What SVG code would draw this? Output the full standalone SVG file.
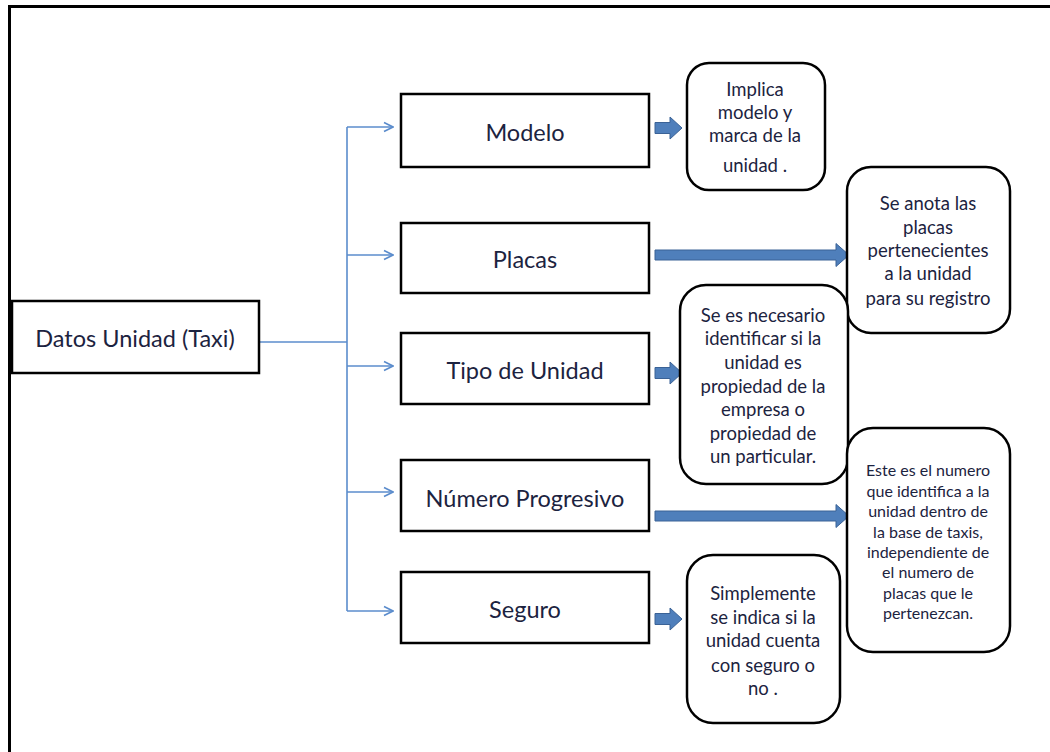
<svg xmlns="http://www.w3.org/2000/svg" width="1050" height="752" viewBox="0 0 1050 752">
  <defs>
    <marker id="chev" viewBox="0 0 12 12" refX="11" refY="6" markerWidth="12" markerHeight="12" markerUnits="userSpaceOnUse" orient="auto">
      <path d="M2,1.5 L11,6 L2,10.5" fill="none" stroke="#5b8ccc" stroke-width="1.6"/>
    </marker>
    <!-- short block arrow, origin at the tail, pointing right -->
    <path id="blkShort" d="M0,-5.5 H15 V-11 L27,0 L15,11 V5.5 H0 Z"/>
  </defs>
  <style>
    .frame { fill: none; stroke: #000; stroke-width: 3; }
    .box { fill: #fff; stroke: #000; stroke-width: 2.5; }
    .note { fill: #fff; stroke: #000; stroke-width: 2.5; }
    .link { fill: none; stroke: #5b8ccc; stroke-width: 1.6; }
    .blk { fill: #4f7fbb; stroke: #3a6296; stroke-width: 1; }
    .lbl { font-family: Lato, "Liberation Sans", sans-serif; font-size: 23.5px; fill: #1c2340; text-anchor: middle; dominant-baseline: central; }
    .txt { font-family: Lato, "Liberation Sans", sans-serif; font-size: 18.5px; fill: #1c2340; text-anchor: middle; dominant-baseline: central; }
    .sm { font-size: 16px; }
  </style>

  <rect width="1050" height="752" fill="#fff"/>
  <!-- outer frame: top and left edges -->
  <path class="frame" d="M9.5,752 V6.5 H1050"/>

  <!-- connectors -->
  <g id="connectors">
    <path class="link" d="M259,342 H347"/>
    <path class="link" d="M347,127 V611"/>
    <path class="link" d="M347,127 H393" marker-end="url(#chev)"/>
    <path class="link" d="M347,255 H393" marker-end="url(#chev)"/>
    <path class="link" d="M347,366 H393" marker-end="url(#chev)"/>
    <path class="link" d="M347,492 H393" marker-end="url(#chev)"/>
    <path class="link" d="M347,611 H393" marker-end="url(#chev)"/>
    <use href="#blkShort" class="blk" x="655" y="128"/>
    <use href="#blkShort" class="blk" x="655" y="373"/>
    <use href="#blkShort" class="blk" x="655" y="619"/>
    <path class="blk" d="M655,250 H836 V243.5 L849,255 L836,266.5 V260 H655 Z"/>
    <path class="blk" d="M655,511 H836 V504.5 L849,516 L836,527.5 V521 H655 Z"/>
  </g>

  <!-- root -->
  <g id="datos">
    <rect class="box" x="12" y="301" width="247" height="72"/>
    <text class="lbl" x="135" y="338">Datos Unidad (Taxi)</text>
  </g>

  <!-- attribute boxes -->
  <g id="modelo">
    <rect class="box" x="401" y="94" width="248" height="73"/>
    <text class="lbl" x="525" y="132">Modelo</text>
  </g>
  <g id="placas">
    <rect class="box" x="401" y="223" width="248" height="70"/>
    <text class="lbl" x="525" y="259">Placas</text>
  </g>
  <g id="tipo">
    <rect class="box" x="401" y="333" width="248" height="71"/>
    <text class="lbl" x="525" y="370">Tipo de Unidad</text>
  </g>
  <g id="numero">
    <rect class="box" x="401" y="460" width="248" height="71"/>
    <text class="lbl" x="525" y="498">Número Progresivo</text>
  </g>
  <g id="seguro">
    <rect class="box" x="401" y="572" width="248" height="71"/>
    <text class="lbl" x="525" y="609">Seguro</text>
  </g>

  <!-- description notes -->
  <g id="nota-modelo">
    <rect class="note" x="687" y="63" width="138" height="127" rx="22"/>
    <text class="txt" x="755" y="89">Implica</text>
    <text class="txt" x="755" y="112">modelo y</text>
    <text class="txt" x="755" y="135">marca de la</text>
    <text class="txt" x="755" y="165">unidad .</text>
  </g>
  <g id="nota-placas">
    <rect class="note" x="847" y="167" width="163" height="166" rx="24"/>
    <text class="txt" x="928" y="203">Se anota las</text>
    <text class="txt" x="928" y="227">placas</text>
    <text class="txt" x="928" y="250">pertenecientes</text>
    <text class="txt" x="928" y="273">a la unidad</text>
    <text class="txt" x="928" y="298">para su registro</text>
  </g>
  <g id="nota-tipo">
    <rect class="note" x="680" y="285" width="168" height="199" rx="26"/>
    <text class="txt" x="763" y="315">Se es necesario</text>
    <text class="txt" x="763" y="338">identificar si la</text>
    <text class="txt" x="763" y="362">unidad es</text>
    <text class="txt" x="763" y="386">propiedad de la</text>
    <text class="txt" x="763" y="409">empresa o</text>
    <text class="txt" x="763" y="433">propiedad de</text>
    <text class="txt" x="763" y="456">un particular.</text>
  </g>
  <g id="nota-numero">
    <rect class="note" x="847" y="428" width="163" height="224" rx="26"/>
    <text class="txt sm" x="928" y="469">Este es el numero</text>
    <text class="txt sm" x="928" y="490">que identifica a la</text>
    <text class="txt sm" x="928" y="510">unidad dentro de</text>
    <text class="txt sm" x="928" y="531">la base de taxis,</text>
    <text class="txt sm" x="928" y="551">independiente de</text>
    <text class="txt sm" x="928" y="571">el numero de</text>
    <text class="txt sm" x="928" y="592">placas que le</text>
    <text class="txt sm" x="928" y="612">pertenezcan.</text>
  </g>
  <g id="nota-seguro">
    <rect class="note" x="687" y="555" width="153" height="168" rx="26"/>
    <text class="txt" x="763" y="593">Simplemente</text>
    <text class="txt" x="763" y="617">se indica si la</text>
    <text class="txt" x="763" y="640">unidad cuenta</text>
    <text class="txt" x="763" y="665">con seguro o</text>
    <text class="txt" x="763" y="688">no .</text>
  </g>
</svg>
